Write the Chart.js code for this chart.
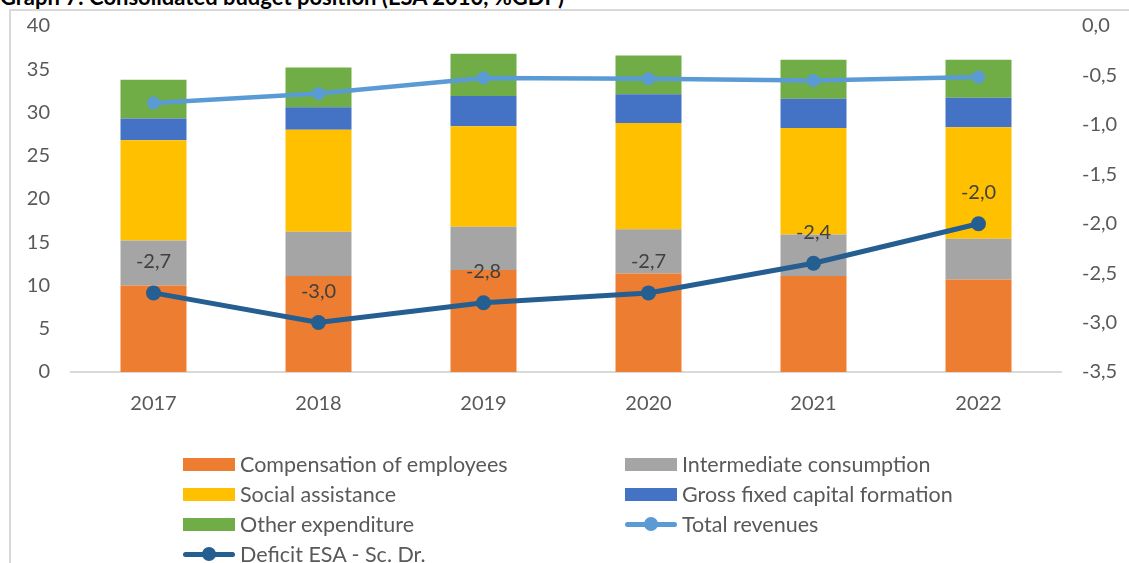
<!DOCTYPE html>
<html>
<head>
<meta charset="utf-8">
<script src="https://cdn.jsdelivr.net/npm/chart.js@4.4.1/dist/chart.umd.min.js"></script>
<style>
  body { margin: 0; background: #fff; }
  #wrap { position: relative; width: 1129px; height: 563px; overflow: hidden; }
  #title { position: absolute; left: 0; top: -13px; font: bold 22px Lato, sans-serif; line-height: 20px; color: #000; white-space: nowrap; }
  #frame { position: absolute; left: 9px; top: 9px; width: 1200px; height: 700px; border-left: 2px solid #D9D9D9; border-top: 2px solid #D9D9D9; }
  #chart { position: absolute; left: 0; top: 0; }
  #legend { position: absolute; left: 183px; top: 449px; display: grid; grid-template-columns: 442px 442px; grid-auto-rows: 30px; font: 21.5px Lato, sans-serif; color: #595959; }
  .item { display: flex; align-items: center; }
  .mark { position: relative; width: 52px; height: 13px; margin-right: 5px; flex: none; }
</style>
</head>
<body>
<div id="wrap">
  <div id="frame"></div>
  <div id="title">Graph 7: Consolidated budget position (ESA 2010, %GDP)</div>
  <canvas id="chart" width="1129" height="563"></canvas>
  <div id="legend"></div>
</div>
<script>
const years = ['2017', '2018', '2019', '2020', '2021', '2022'];

// expenditure components, % GDP (left axis)
const compensation = [10.0, 11.1, 11.8, 11.4, 11.1, 10.7];
const intermediate = [5.2, 5.1, 5.0, 5.1, 4.8, 4.7];
const socialAssist = [11.6, 11.8, 11.6, 12.3, 12.3, 12.9];
const grossCapital = [2.5, 2.6, 3.5, 3.3, 3.4, 3.4];
const otherExpend = [4.5, 4.6, 4.9, 4.5, 4.5, 4.4];

// revenues on left axis, deficit on right axis
const totalRevenues = [31.1, 32.2, 34.0, 33.9, 33.7, 34.1];
const deficit = [-2.7, -3.0, -2.8, -2.7, -2.4, -2.0];

const leftTicks = { min: 0, max: 40, step: 5 };
const rightTicks = { min: -3.5, max: 0, step: 0.5 };

const txt = '#595959';
const font = { family: 'Lato, sans-serif', size: 20 };
const comma = v => Number(v).toFixed(1).replace('.', ',');

// deficit value labels
const labelPlugin = {
    id: 'deficitLabels',
    afterDatasetsDraw(chart) {
        const ctx = chart.ctx;
        const meta = chart.getDatasetMeta(6);
        ctx.save();
        ctx.font = '20px Lato, sans-serif';
        ctx.fillStyle = '#404040';
        ctx.textAlign = 'center';
        ctx.textBaseline = 'middle';
        meta.data.forEach((pt, i) => {
            ctx.fillText(comma(deficit[i]), pt.x, pt.y - 31);
        });
        ctx.restore();
    }
};

function bar(label, data, color) {
    return { type: 'bar', label, data, backgroundColor: color, stack: 'exp', yAxisID: 'y',
             barPercentage: 0.4, categoryPercentage: 1, order: 2, borderWidth: 0 };
}

function line(label, data, color, axis, width, radius) {
    return { type: 'line', label, data, borderColor: color, backgroundColor: color, yAxisID: axis,
             stack: label, borderWidth: width, pointRadius: radius, pointHoverRadius: radius,
             pointBorderWidth: 0, tension: 0, order: 1, borderCapStyle: 'round' };
}

// fixed axis widths; keep the top padding to half a label
function fixWidth(w) {
    return s => { s.width = w; s.paddingTop = 12; };
}

const ctx = document.getElementById('chart').getContext('2d');
const chart = new Chart(ctx, {
    data: {
        labels: years,
        datasets: [
            bar('Compensation of employees', compensation, '#ED7D31'),
            bar('Intermediate consumption', intermediate, '#A5A5A5'),
            bar('Social assistance', socialAssist, '#FFC000'),
            bar('Gross fixed capital formation', grossCapital, '#4472C4'),
            bar('Other expenditure', otherExpend, '#70AD47'),
            line('Total revenues', totalRevenues, '#5B9BD5', 'y', 4.5, 6.5),
            line('Deficit ESA - Sc. Dr.', deficit, '#255E91', 'y1', 5, 7.5)
        ]
    },
    options: {
        responsive: false,
        animation: false,
        layout: { padding: { top: 26, left: 0, right: 0, bottom: 0 } },
        plugins: { legend: { display: false }, tooltip: { enabled: false } },
        scales: {
            x: {
                stacked: true,
                grid: { display: false, drawTicks: false },
                border: { display: true, color: '#D9D9D9', width: 2 },
                ticks: { color: txt, font, padding: 20 },
                afterFit: s => { s.height = 563 - 372; }
            },
            y: {
                position: 'left',
                stacked: true,
                min: leftTicks.min, max: leftTicks.max,
                grid: { display: false, drawTicks: false },
                border: { display: false },
                ticks: { stepSize: leftTicks.step, color: txt, font, padding: 21 },
                afterFit: fixWidth(71)
            },
            y1: {
                position: 'right',
                min: rightTicks.min, max: rightTicks.max,
                grid: { display: false, drawTicks: false },
                border: { display: false },
                ticks: { stepSize: rightTicks.step, color: txt, font, padding: 21, callback: v => comma(v) },
                afterFit: fixWidth(1129 - 1061)
            }
        }
    },
    plugins: [labelPlugin]
});

// legend in two columns, Excel order
const slots = [0, 1, 2, 3, 4, 5, 6];
const legend = document.getElementById('legend');
slots.forEach(i => {
    const ds = chart.data.datasets[i];
    const item = document.createElement('div');
    item.className = 'item';
    const mark = document.createElement('div');
    mark.className = 'mark';
    if (ds.type === 'bar') {
        mark.style.background = ds.backgroundColor;
    } else {
        const c = ds.borderColor;
        mark.innerHTML = '<div style="position:absolute;left:0;right:0;top:4px;height:5px;border-radius:3px;background:' + c + '"></div>' +
            '<div style="position:absolute;left:19px;top:-0.5px;width:14px;height:14px;border-radius:50%;background:' + c + '"></div>';
    }
    const lab = document.createElement('span');
    lab.textContent = ds.label;
    item.appendChild(mark);
    item.appendChild(lab);
    legend.appendChild(item);
});
</script>
</body>
</html>
